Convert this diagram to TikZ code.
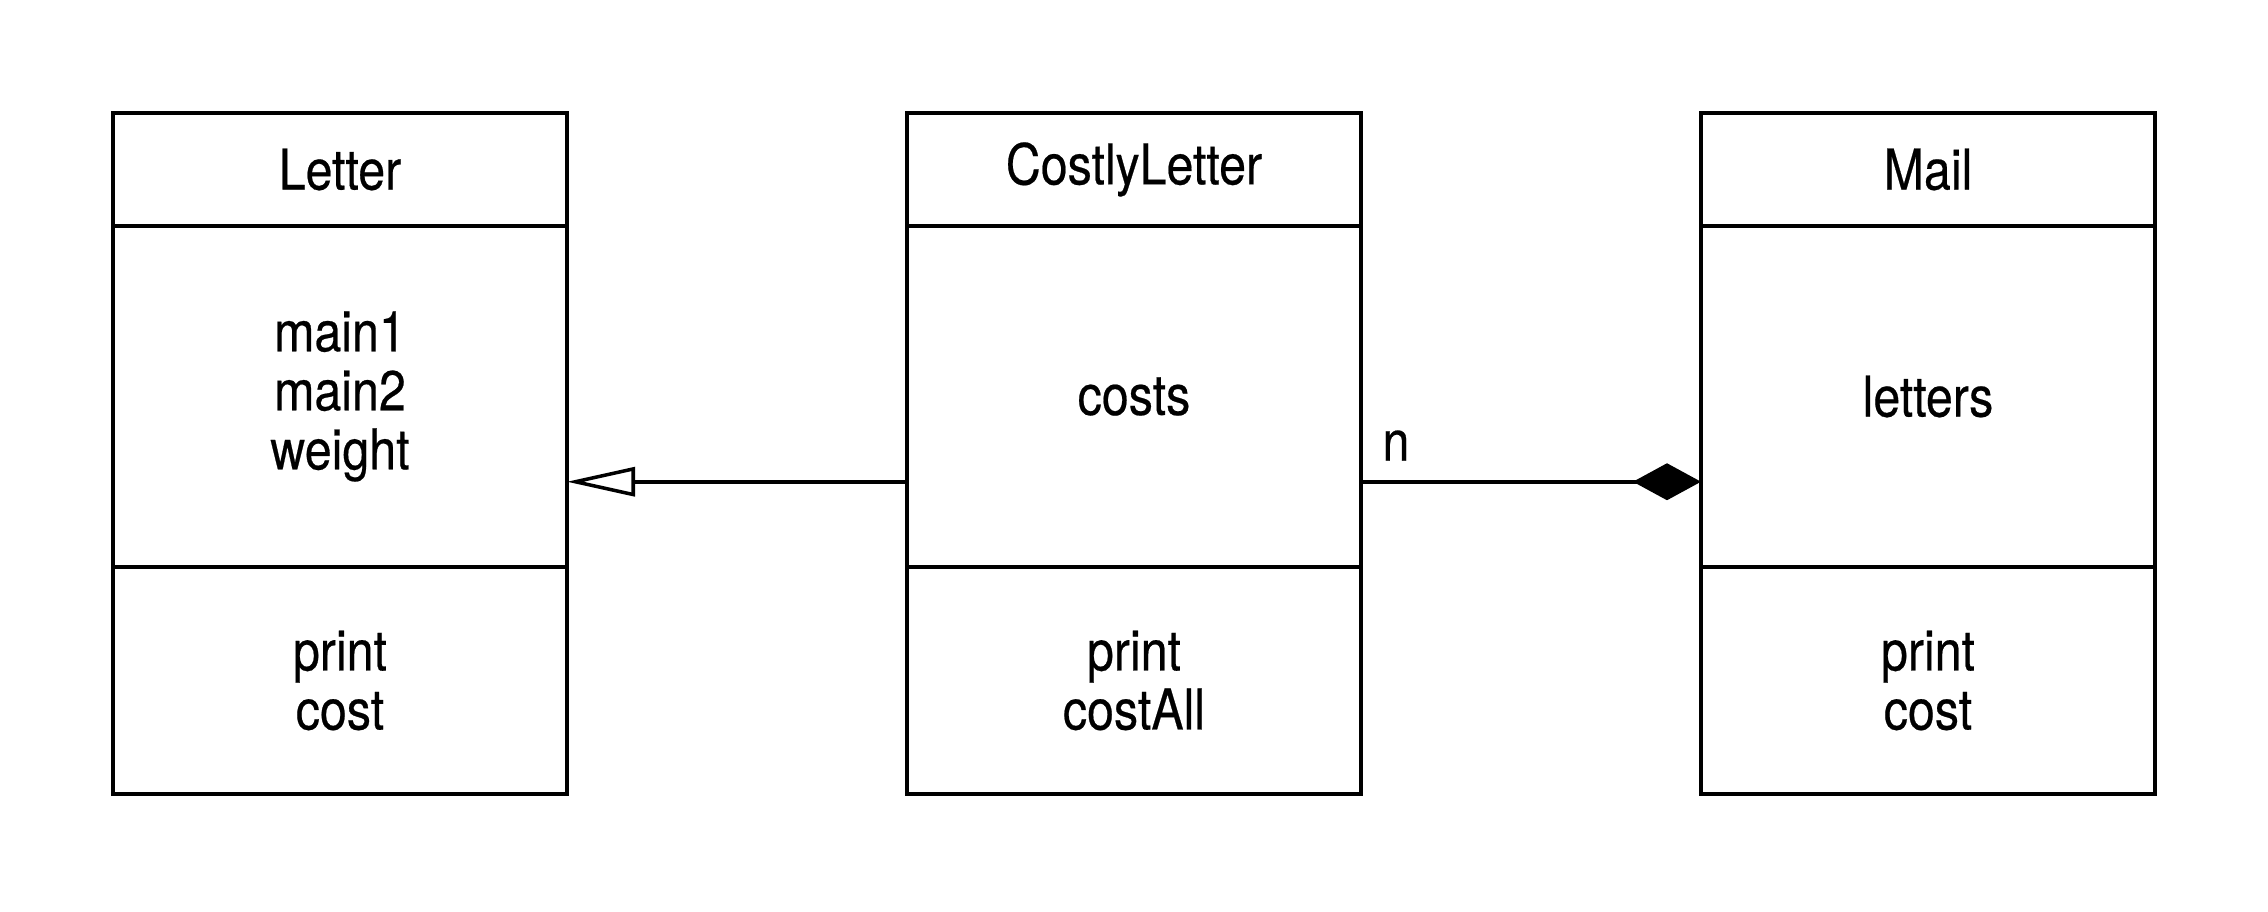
\documentclass[tikz,border=0pt]{standalone}
\usepackage{fontspec}
\setmainfont{TeX Gyre Heros}[FakeStretch=0.86, FakeBold=0.4]
\usetikzlibrary{arrows.meta,calc,positioning}

\tikzset{
  part/.style={draw, line width=1pt, minimum width=4.54cm, outer sep=0pt, inner sep=0pt, align=center},
  head/.style={part, minimum height=1.13cm},
  attrs/.style={part, minimum height=3.41cm},
  ops/.style={part, minimum height=2.27cm},
  link/.style={line width=1pt},
}

\begin{document}
\begin{tikzpicture}[font=\fontsize{16}{16.8}\selectfont]
        \useasboundingbox (0,0) rectangle (22.68,9.12);
        % classes
        \node[head, anchor=north west] (letter-head) at (1.13,7.99) {Letter};
        \node[attrs, below=0pt of letter-head] (letter-attrs) {main1\\main2\\weight};
        \node[ops, below=0pt of letter-attrs] (letter-ops) {print\\cost};
        \node[head, right=3.4cm of letter-head] (costly-head) {CostlyLetter};
        \node[attrs, below=0pt of costly-head] (costly-attrs) {costs};
        \node[ops, below=0pt of costly-attrs] (costly-ops) {print\\costAll};
        \node[head, right=3.4cm of costly-head] (mail-head) {Mail};
        \node[attrs, below=0pt of mail-head] (mail-attrs) {letters};
        \node[ops, below=0pt of mail-attrs] (mail-ops) {print\\cost};
        % relations
        \draw[link, -{Triangle[open, length=0.68cm, width=0.29cm]}]
          ($(costly-attrs.south west)!0.25!(costly-attrs.north west)$) -- ($(letter-attrs.south east)!0.25!(letter-attrs.north east)$);
        \draw[link, -{Diamond[length=0.68cm, width=0.37cm]}]
          ($(costly-attrs.south east)!0.25!(costly-attrs.north east)$)
          -- node[pos=0, anchor=base west, xshift=0.08cm, yshift=0.21cm] (mult) {n}
          ($(mail-attrs.south west)!0.25!(mail-attrs.north west)$);
      \end{tikzpicture}
\end{document}
